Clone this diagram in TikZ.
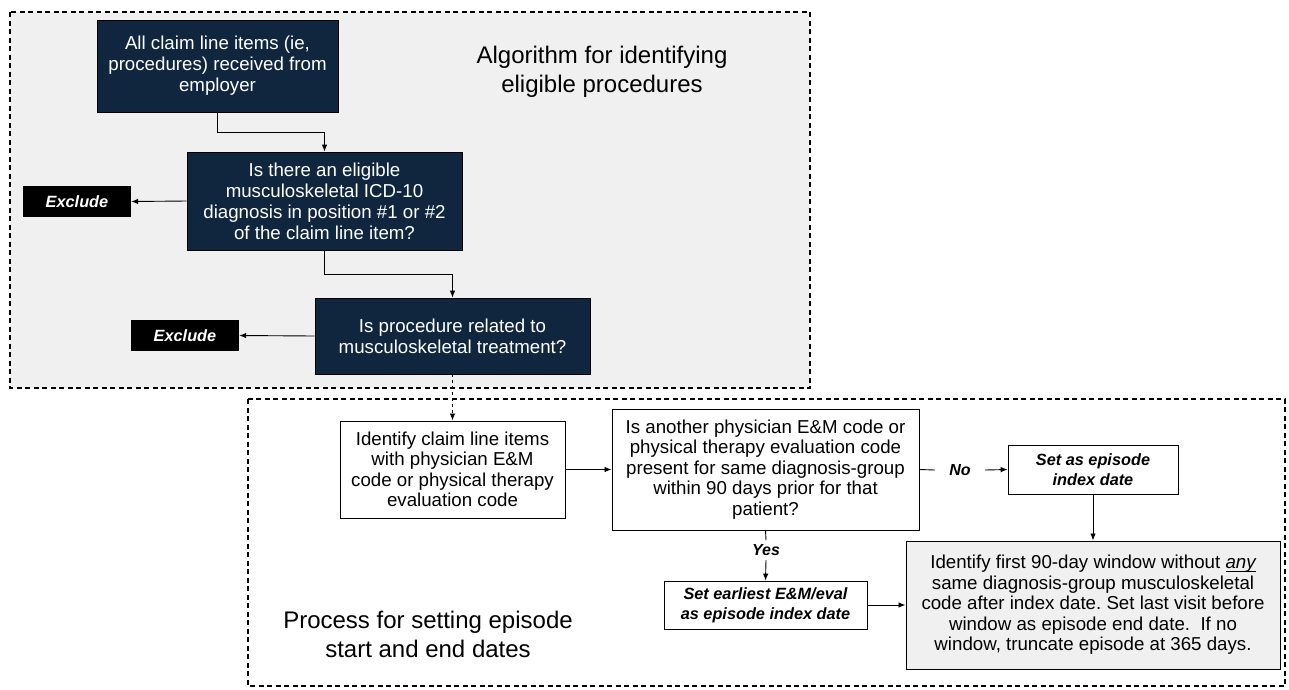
\documentclass[tikz,border=0pt]{standalone}
\usepackage{fontspec}
\setmainfont{Liberation Sans}
\usetikzlibrary{arrows.meta}
\definecolor{navy}{HTML}{10263F}
\definecolor{panel}{HTML}{F0F0F0}
\frenchspacing
\newcommand\myul[1]{{\setbox0\hbox{#1}\rlap{\rule[-2.6pt]{\wd0}{0.8pt}}\box0}}
\begin{document}
\begin{tikzpicture}[x=1pt,y=-1pt,
  darkbox/.style={draw=black,line width=0.8pt,fill=navy,text=white,align=center,inner sep=0pt,
    font=\fontsize{18.7}{21}\selectfont},
  exbox/.style={fill=black,text=white,inner sep=0pt,font=\fontsize{16.3}{18}\selectfont\bfseries\itshape},
  whitebox/.style={draw=black,line width=1pt,fill=white,align=center,inner sep=0pt,
    font=\fontsize{18.7}{20.5}\selectfont},
  smallbox/.style={draw=black,line width=0.8pt,fill=white,align=center,inner sep=0pt,
    font=\fontsize{16.3}{20}\selectfont\bfseries\itshape},
  lbl/.style={font=\fontsize{16}{18}\selectfont\bfseries\itshape},
  frame/.style={draw=black,line width=1.3pt,dash pattern=on 5pt off 3.5pt},
  conn/.style={line width=0.9pt,-{Latex[length=7pt,width=5.5pt]}},
  plain/.style={line width=0.9pt},
  title/.style={align=center,font=\fontsize{24}{29}\selectfont}]
\useasboundingbox (0,0) rectangle (1289,689);
% frames
\draw[frame,fill=panel] (10,12) rectangle (810,388);
\draw[frame,fill=white] (248,399) rectangle (1285,686);

\node[title] (t1) at (602,72) {Algorithm for identifying\\eligible procedures};
\node[title] (t2) at (428,634) {Process for setting episode\\start and end dates};

\node[darkbox,minimum width=241pt,minimum height=92pt] (A) at (217.5,66)
  {All claim line items (ie,\\procedures) received from\\employer};
\node[darkbox,minimum width=275pt,minimum height=98pt] (B) at (324.5,201)
  {Is there an eligible\\musculoskeletal ICD-10\\diagnosis in position \#1 or \#2\\of the claim line item?};
\node[exbox,minimum width=108pt,minimum height=31pt] (X1) at (77,201.5) {Exclude};
\node[darkbox,minimum width=275pt,minimum height=76pt] (C) at (452.5,336)
  {Is procedure related to\\musculoskeletal treatment?};
\node[exbox,minimum width=108pt,minimum height=31pt] (X2) at (185,335.5) {Exclude};

\node[whitebox,minimum width=225pt,minimum height=97pt] (D) at (452.5,469.5)
  {Identify claim line items\\with physician E\&M\\code or physical therapy\\evaluation code};
\node[whitebox,minimum width=307pt,minimum height=121pt] (E) at (765.5,469.5)
  {Is another physician E\&M code or\\physical therapy evaluation code\\present for same diagnosis-group\\within 90 days prior for that\\patient?};
\node[smallbox,minimum width=170pt,minimum height=49pt] (F) at (1093,469.5)
  {Set as episode\\index date};
\node[whitebox,fill=panel,minimum width=374pt,minimum height=128pt] (G) at (1093,605)
  {Identify first 90-day window without \myul{\itshape any}\\same diagnosis-group musculoskeletal\\code after index date. Set last visit before\\window as episode end date.\ \ If no\\window, truncate episode at 365 days.};
\node[smallbox,minimum width=203pt,minimum height=48pt] (H) at (765.5,605)
  {Set earliest E\&M/eval\\as episode index date};
\node[lbl,inner xsep=14pt,inner ysep=2pt] (no) at (960,470) {No};
\node[lbl,inner xsep=2pt,inner ysep=4pt] (yes) at (766,550) {Yes};

\draw[conn] (A.south) -- ++(0,20) -| (B.north);
\draw[conn] (B.south) -- ++(0,24) -| (C.north);
\draw[conn] (B.west) -- (X1.east);
\draw[conn] (C.west) -- (X2.east);
\draw[conn,dashed] (C.south) -- (D.north);
\draw[conn] (D.east) -- (E.west);
\draw[plain] (E.east) -- (no.west);
\draw[conn] (no.east) -- (F.west);
\draw[plain] (E.south) -- (yes.north);
\draw[conn] (yes.south) -- (H.north);
\draw[conn] (F.south) -- (G.north);
\draw[conn] (H.east) -- (G.west);
\end{tikzpicture}
\end{document}
